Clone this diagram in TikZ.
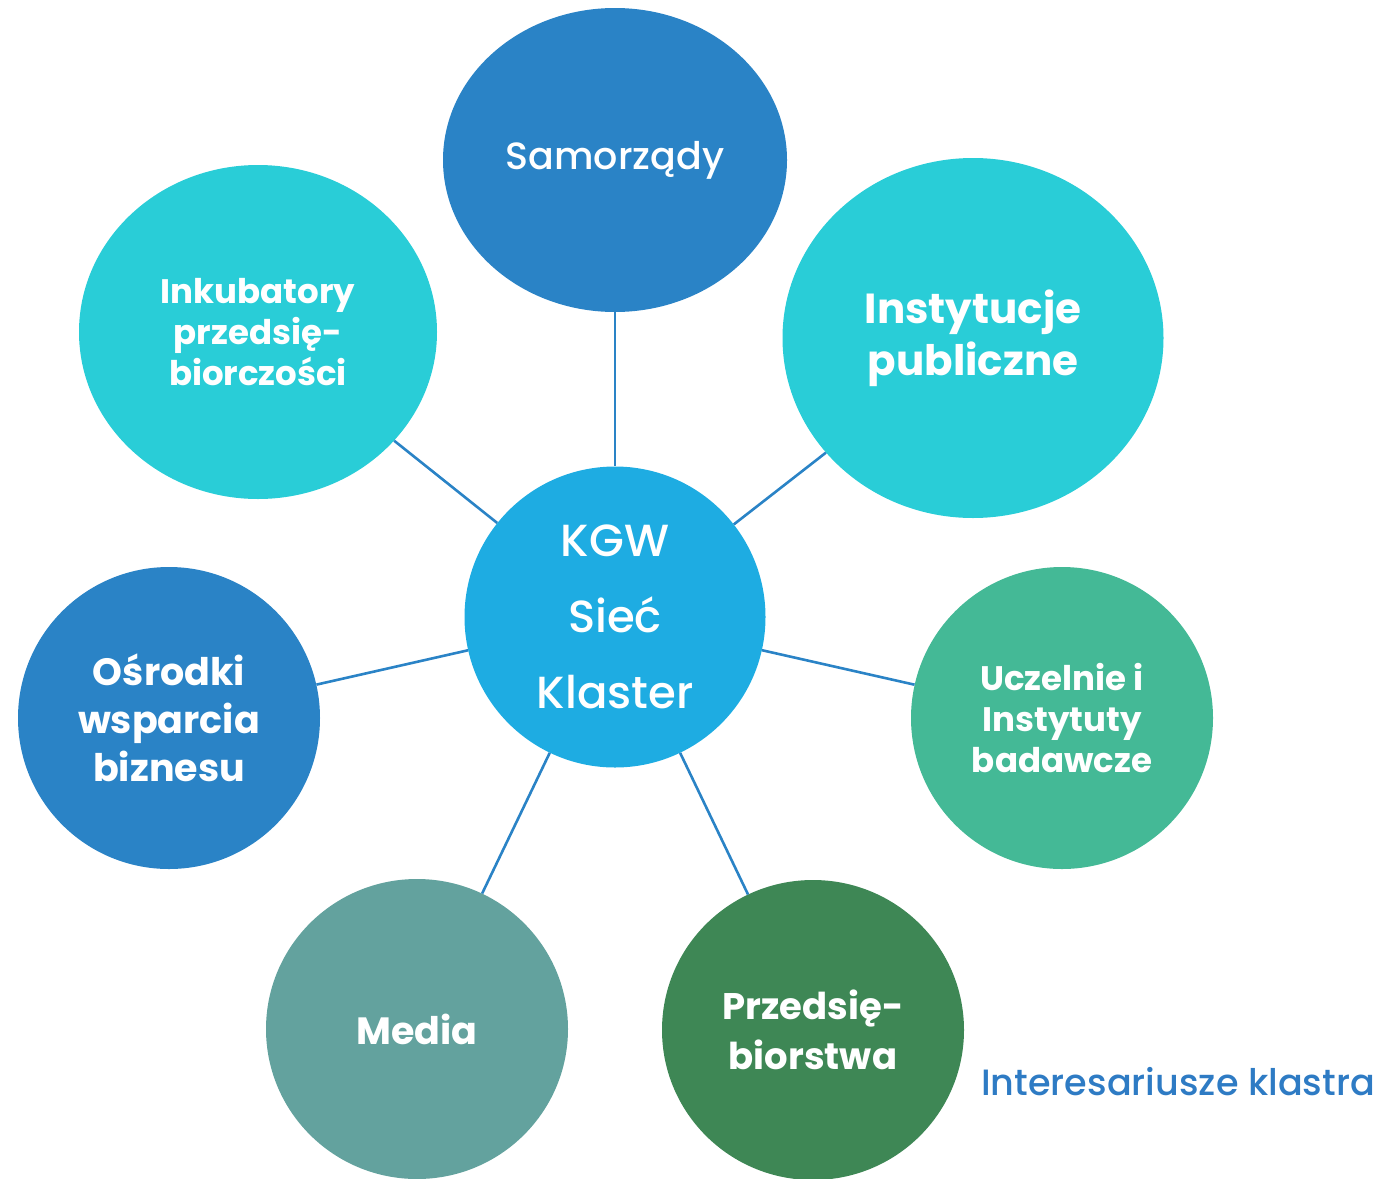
\documentclass[tikz,border=0pt]{standalone}
\usepackage{fontspec}
\setmainfont{Poppins}[UprightFont=* Medium]
\newfontfamily\popbold{Poppins}[UprightFont=* Bold]
\usetikzlibrary{shapes.geometric}
\definecolor{cdark}{HTML}{2A83C6}
\definecolor{ccyan}{HTML}{29CDD7}
\definecolor{ccenter}{HTML}{1EACE2}
\definecolor{cgreen}{HTML}{44B996}
\definecolor{cteal}{HTML}{63A29E}
\definecolor{cforest}{HTML}{3E8755}
\definecolor{clabel}{HTML}{2E7BC4}
\tikzset{
  bubble/.style={ellipse, inner sep=0pt, text=white, align=center},
  link/.style={draw=cdark, line width=2.6pt},
}
\begin{document}
\begin{tikzpicture}[x=1pt,y=-1pt]
\useasboundingbox (0,0) rectangle (1386,1178);
\node[bubble, fill=cdark, minimum width=344pt, minimum height=304pt,
  font=\fontsize{38}{46}\selectfont] (sam) at (615,160) {Samorządy};
\node[bubble, fill=ccyan, minimum width=358pt, minimum height=334pt,
  font=\popbold\fontsize{34}{41}\selectfont] (ink) at (258,332) {Inkubatory\\przedsię-\\biorczości};
\node[bubble, fill=ccyan, minimum width=381pt, minimum height=360pt,
  font=\popbold\fontsize{42}{52}\selectfont] (ins) at (973,338) {Instytucje\\publiczne};
\node[bubble, fill=ccenter, minimum width=301pt, minimum height=301pt,
  font=\fontsize{45}{76}\selectfont] (kgw) at (615,617) {KGW\\Sieć\\Klaster};
\node[bubble, fill=cdark, minimum width=302pt, minimum height=302pt,
  font=\popbold\fontsize{38}{48}\selectfont] (osr) at (169,718) {Ośrodki\\wsparcia\\biznesu};
\node[bubble, fill=cgreen, minimum width=302pt, minimum height=302pt,
  font=\popbold\fontsize{34}{41}\selectfont] (ucz) at (1062,718) {Uczelnie i\\Instytuty\\badawcze};
\node[bubble, fill=cteal, minimum width=302pt, minimum height=300pt,
  font=\popbold\fontsize{38}{46}\selectfont] (med) at (417,1029) {Media};
\node[bubble, fill=cforest, minimum width=302pt, minimum height=300pt,
  font=\popbold\fontsize{37}{50}\selectfont] (prz) at (813,1030) {Przedsię-\\biorstwa};
\node[anchor=base west, inner sep=0pt, text=clabel,
  font=\fontsize{36.6}{44}\selectfont] (lab) at (981,1095) {Interesariusze klastra};
\draw[link] (sam) -- (kgw);
\draw[link] (ink) -- (kgw);
\draw[link] (ins) -- (kgw);
\draw[link] (osr) -- (kgw);
\draw[link] (ucz) -- (kgw);
\draw[link] (med) -- (kgw);
\draw[link] (prz) -- (kgw);
\end{tikzpicture}
\end{document}
